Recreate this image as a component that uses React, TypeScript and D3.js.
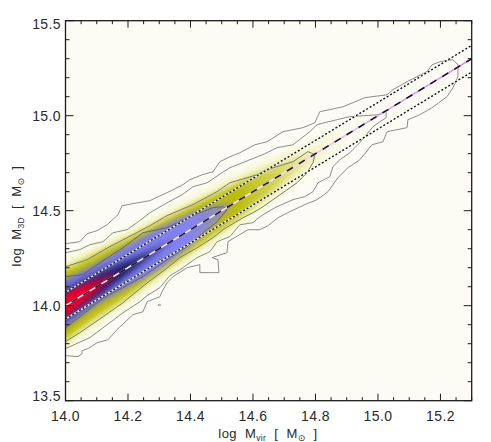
import React from "react";
import * as d3 from "d3";

type P = [number, number];

const contourA: P[] = [[14.000,14.326],[14.046,14.337],[14.069,14.379],[14.101,14.395],[14.133,14.426],[14.168,14.479],[14.181,14.526],[14.216,14.537],[14.270,14.553],[14.325,14.595],[14.376,14.637],[14.398,14.663],[14.437,14.689],[14.472,14.705],[14.494,14.758],[14.526,14.784],[14.558,14.805],[14.606,14.847],[14.645,14.863],[14.696,14.916],[14.760,14.937],[14.798,14.963],[14.814,15.021],[14.888,15.047],[14.958,15.095],[15.029,15.110],[15.048,15.137],[15.093,15.179],[15.157,15.232],[15.173,15.268],[15.198,15.284],[15.240,15.295],[15.256,15.268],[15.256,15.205],[15.240,15.147],[15.221,15.100],[15.173,15.042],[15.134,15.005],[15.096,14.979],[15.093,14.937],[15.029,14.916],[15.016,14.863],[14.981,14.847],[14.942,14.768],[14.904,14.726],[14.872,14.674],[14.840,14.600],[14.805,14.558],[14.766,14.532],[14.718,14.495],[14.680,14.463],[14.648,14.421],[14.622,14.400],[14.584,14.400],[14.520,14.337],[14.517,14.279],[14.469,14.253],[14.488,14.242],[14.491,14.174],[14.430,14.174],[14.430,14.216],[14.389,14.200],[14.344,14.153],[14.325,14.121],[14.309,14.074],[14.302,14.047],[14.261,14.021],[14.248,13.968],[14.216,13.953],[14.165,13.874],[14.136,13.821],[14.101,13.805],[14.072,13.774],[14.053,13.763],[14.053,13.747],[14.040,13.732],[14.000,13.737]];
const contourB: P[] = [[14.000,14.279],[14.046,14.295],[14.078,14.321],[14.120,14.337],[14.152,14.384],[14.197,14.400],[14.229,14.437],[14.270,14.489],[14.325,14.542],[14.373,14.584],[14.408,14.626],[14.453,14.647],[14.501,14.700],[14.526,14.726],[14.590,14.768],[14.632,14.795],[14.677,14.832],[14.728,14.847],[14.782,14.916],[14.805,14.953],[14.869,14.979],[14.910,14.995],[15.000,15.005],[15.026,15.026],[15.026,14.989],[15.006,14.968],[14.984,14.942],[14.958,14.889],[14.942,14.858],[14.910,14.805],[14.878,14.768],[14.856,14.732],[14.846,14.679],[14.808,14.647],[14.792,14.600],[14.766,14.574],[14.728,14.558],[14.670,14.516],[14.622,14.468],[14.600,14.437],[14.558,14.426],[14.526,14.363],[14.485,14.337],[14.462,14.284],[14.421,14.253],[14.366,14.189],[14.334,14.158],[14.302,14.095],[14.261,14.053],[14.238,14.021],[14.184,13.963],[14.142,13.911],[14.078,13.832],[14.000,13.774]];
const contourC: P[] = [[14.000,14.205],[14.069,14.242],[14.142,14.311],[14.216,14.374],[14.270,14.421],[14.325,14.474],[14.408,14.532],[14.485,14.600],[14.526,14.647],[14.613,14.689],[14.645,14.716],[14.728,14.758],[14.776,14.811],[14.798,14.795],[14.792,14.753],[14.773,14.700],[14.741,14.647],[14.696,14.595],[14.664,14.558],[14.632,14.521],[14.600,14.489],[14.568,14.463],[14.536,14.432],[14.504,14.400],[14.472,14.358],[14.421,14.305],[14.366,14.253],[14.318,14.189],[14.254,14.111],[14.184,14.016],[14.120,13.942],[14.046,13.858],[14.000,13.811]];
const contourD: P[] = [[14.000,14.153],[14.056,14.163],[14.110,14.226],[14.184,14.305],[14.248,14.384],[14.325,14.411],[14.398,14.468],[14.472,14.516],[14.504,14.521],[14.517,14.505],[14.485,14.442],[14.440,14.384],[14.389,14.311],[14.325,14.242],[14.248,14.153],[14.184,14.095],[14.120,14.042],[14.062,13.963],[14.000,13.884]];
const islandContour: P[] = [[14.296,14.003],[14.300,14.008],[14.305,14.003],[14.300,13.999],[14.296,14.003]];

// density layers: half-width of each colour band around the one-to-one line
const bandX = [13.9, 14.0, 14.1, 14.2, 14.3, 14.4, 14.5, 14.6, 14.7, 14.8, 14.9, 15.0];
const paleUp = [0.26, 0.235, 0.215, 0.195, 0.18, 0.165, 0.15, 0.13, 0.1, 0.07, 0.04, 0.0];
const paleDown = [0.25, 0.22, 0.2, 0.19, 0.17, 0.155, 0.14, 0.12, 0.095, 0.065, 0.035, 0.0];
const oliveUp = [0.21, 0.19, 0.175, 0.155, 0.14, 0.125, 0.105, 0.085, 0.055, 0.02, 0, 0];
const oliveDown = [0.2, 0.18, 0.16, 0.15, 0.13, 0.115, 0.1, 0.08, 0.05, 0.02, 0, 0];
const blueX = [13.9, 14.0, 14.1, 14.2, 14.3, 14.4, 14.5, 14.54];
const blueUp = [0.15, 0.14, 0.125, 0.12, 0.11, 0.085, 0.035, 0];
const blueDown = [0.13, 0.115, 0.095, 0.1, 0.105, 0.08, 0.03, 0];
const navyX = [13.9, 14.0, 14.1, 14.2, 14.3, 14.36];
const navyUp = [0.09, 0.085, 0.07, 0.04, 0.015, 0];
const navyDown = [0.08, 0.075, 0.06, 0.035, 0.015, 0];
const redX = [13.9, 14.0, 14.05, 14.1, 14.15, 14.18];
const redUp = [0.07, 0.065, 0.055, 0.04, 0.018, 0];
const redDown = [0.06, 0.055, 0.045, 0.03, 0.014, 0];

const oneToOne: P[] = [[14.0, 14.0], [15.3, 15.3]];
const scatterOffset = 0.07;

const xMajor = [14.0, 14.2, 14.4, 14.6, 14.8, 15.0, 15.2];
const xMinor = d3.range(0, 27).map((i) => 14 + i * 0.05);
const yMajor = [13.5, 14.0, 14.5, 15.0, 15.5];
const yMinor = d3.range(0, 21).map((i) => 13.5 + i * 0.1);

const W = 491, H = 442;
const x = d3.scaleLinear().domain([14.0, 15.3]).range([65.5, 471.7]);
const y = d3.scaleLinear().domain([13.5, 15.5]).range([400.7, 20.7]);

const INK = "#1c1c1c";
const FONT = "'Liberation Sans', Arial, sans-serif";

const gradients: [string, [number, string][]][] = [
  ["gPale", [[14.0, "#f4f4c0"], [14.7, "#f5f5c8"], [14.85, "#f9f9e0"], [15.0, "#fcfcf5"]]],
  ["gOlive", [[14.0, "#bcbc06"], [14.55, "#bcbc10"], [14.66, "#d0d050"], [14.78, "#ececb0"], [14.88, "#fafae8"]]],
  ["gBlue", [[14.0, "#7070e0"], [14.4, "#8484f4"], [14.48, "#8c8cb8"], [14.54, "#a0a070"]]],
  ["gNavy", [[14.0, "#303080"], [14.2, "#222268"], [14.3, "#4a4aa8"], [14.38, "#8080ee"]]],
  ["gRed", [[14.0, "#f00428"], [14.07, "#e00030"], [14.13, "#a00848"], [14.18, "#40206e"]]],
];

function Band({ xs, up, down, fill, blur }: { xs: number[]; up: number[]; down: number[]; fill: string; blur: string }) {
  const rows = xs.map((v, i) => ({ v, u: v + up[i], d: v - down[i] }));
  const area = d3.area<(typeof rows)[number]>().x((r) => x(r.v)).y0((r) => y(r.d)).y1((r) => y(r.u)).curve(d3.curveMonotoneX);
  return <path d={area(rows) ?? ""} fill={fill} filter={`url(#${blur})`} />;
}

export default function App() {
  const line = d3.line<P>().x((p) => x(p[0])).y((p) => y(p[1]));
  const shift = (o: number): P[] => oneToOne.map(([a, b]) => [a, b + o]);
  const contours: [P[], string, number][] = [
    [contourA, "#8c8c8c", 1],
    [contourB, "#8c8c8c", 1],
    [contourC, "#7a7a6c", 1],
    [contourD, "#666", 1],
    [islandContour, "#888", 0.8],
  ];
  const isY = (v: number) => yMajor.some((m) => Math.abs(m - v) < 1e-6);
  const isX = (v: number) => xMajor.some((m) => Math.abs(m - v) < 1e-6);
  const labelY = (v: number) => (v === 15.5 ? y(v) + 3.5 : v === 13.5 ? y(v) - 5 : y(v));
  const x0 = x.range()[0], x1 = x.range()[1], y0 = y.range()[0], y1 = y.range()[1];
  return (
    <svg width={W} height={H} style={{ position: "absolute", left: 0, top: 0 }} fontFamily={FONT}>
      <defs>
        <clipPath id="plot"><rect x={x0} y={y1} width={x1 - x0} height={y0 - y1} /></clipPath>
        <filter id="b4" x="-20%" y="-20%" width="140%" height="140%"><feGaussianBlur stdDeviation="4" /></filter>
        <filter id="b3" x="-20%" y="-20%" width="140%" height="140%"><feGaussianBlur stdDeviation="3.2" /></filter>
        <filter id="b2" x="-20%" y="-20%" width="140%" height="140%"><feGaussianBlur stdDeviation="2.6" /></filter>
        {gradients.map(([id, stops]) => (
          <linearGradient key={id} id={id} gradientUnits="userSpaceOnUse" x1={x(14)} x2={x(15.3)} y1={0} y2={0}>
            {stops.map(([v, c]) => <stop key={v} offset={(v - 14) / 1.3} stopColor={c} />)}
          </linearGradient>
        ))}
        <linearGradient id="gLineD" gradientUnits="userSpaceOnUse" x1={x(14)} y1={y(14)} x2={x(15.3)} y2={y(15.3)}>
          <stop offset={0} stopColor="#ffffff" />
          <stop offset={0.55} stopColor="#f2dcf6" />
          <stop offset={0.77} stopColor="#e0a4ea" />
          <stop offset={1} stopColor="#d88ee6" />
        </linearGradient>
      </defs>
      <rect x={0} y={0} width={W} height={H} fill="#fff" />
      <g clipPath="url(#plot)">
        <rect x={x0} y={y1} width={x1 - x0} height={y0 - y1} fill="#fcfcf5" />
        <Band xs={bandX} up={paleUp} down={paleDown} fill="url(#gPale)" blur="b4" />
        <Band xs={bandX} up={oliveUp} down={oliveDown} fill="url(#gOlive)" blur="b3" />
        <Band xs={blueX} up={blueUp} down={blueDown} fill="url(#gBlue)" blur="b2" />
        <Band xs={navyX} up={navyUp} down={navyDown} fill="url(#gNavy)" blur="b3" />
        <Band xs={redX} up={redUp} down={redDown} fill="url(#gRed)" blur="b2" />
        {contours.map(([pts, c, w], i) => (
          <path key={i} d={line(pts) ?? ""} fill="none" stroke={c} strokeWidth={w} />
        ))}
        {[scatterOffset, -scatterOffset].map((o) => (
          <g key={o}>
            <path d={line(shift(o)) ?? ""} fill="none" stroke="#fff" strokeWidth={1.5} opacity={0.9} />
            <path d={line(shift(o)) ?? ""} fill="none" stroke="#111" strokeWidth={1.4} strokeDasharray="2 2" />
          </g>
        ))}
        <path d={line(oneToOne) ?? ""} fill="none" stroke="url(#gLineD)" strokeWidth={1.5} />
        <path d={line(oneToOne) ?? ""} fill="none" stroke="#1c0a2c" strokeWidth={1.5} strokeDasharray="7 7" strokeDashoffset={7} />
      </g>
      <rect x={x0} y={y1} width={x1 - x0} height={y0 - y1} fill="none" stroke={INK} strokeWidth={1.3} />
      {xMinor.map((v) => {
        const l = isX(v) ? 7 : 3.5;
        return (
          <g key={v} stroke={INK} strokeWidth={1}>
            <line x1={x(v)} x2={x(v)} y1={y0} y2={y0 - l} />
            <line x1={x(v)} x2={x(v)} y1={y1} y2={y1 + l} />
          </g>
        );
      })}
      {yMinor.map((v) => {
        const l = isY(v) ? 8 : 4;
        return (
          <g key={v} stroke={INK} strokeWidth={1}>
            <line x1={x0} x2={x0 + l} y1={y(v)} y2={y(v)} />
            <line x1={x1} x2={x1 - l} y1={y(v)} y2={y(v)} />
          </g>
        );
      })}
      <g fill="#2a2a2a" fontSize={14} letterSpacing={0.4}>
        {xMajor.map((v) => (
          <text key={v} x={x(v)} y={421} textAnchor="middle">{v.toFixed(1)}</text>
        ))}
        {yMajor.map((v) => (
          <text key={v} x={61} y={labelY(v) + 5} textAnchor="end">{v.toFixed(1)}</text>
        ))}
      </g>
      <text x={268} y={438} textAnchor="middle" fill="#2a2a2a" fontSize={13} letterSpacing={0.4} xmlSpace="preserve">
        log  M<tspan fontSize={8.5} dy={3}>vir</tspan><tspan dy={-3}>  [  M</tspan><tspan fontSize={9} dy={3} fontFamily="'DejaVu Sans'">⊙</tspan><tspan dy={-3}>  ]</tspan>
      </text>
      <text transform={`translate(21,${216}) rotate(-90)`} textAnchor="middle" fill="#2a2a2a" fontSize={13} letterSpacing={0.4} xmlSpace="preserve">
        log  M<tspan fontSize={8.5} dy={3}>3D</tspan><tspan dy={-3}>  [  M</tspan><tspan fontSize={9} dy={3} fontFamily="'DejaVu Sans'">⊙</tspan><tspan dy={-3}>  ]</tspan>
      </text>
    </svg>
  );
}
